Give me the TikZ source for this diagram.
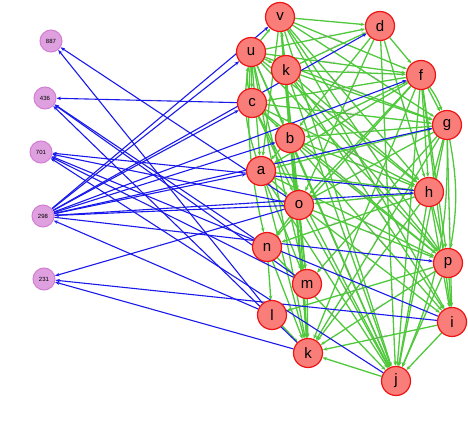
\documentclass[tikz,border=0pt]{standalone}
\usepackage{fontspec}
\setmainfont{Liberation Sans}
\usetikzlibrary{arrows.meta,backgrounds}
\definecolor{rfill}{RGB}{249,125,120}
\definecolor{rdraw}{RGB}{236,20,20}
\definecolor{pfill}{RGB}{222,160,222}
\definecolor{pdraw}{RGB}{212,125,212}
\definecolor{eblue}{RGB}{25,25,235}
\definecolor{egreen}{RGB}{80,200,60}
\begin{document}
\begin{tikzpicture}[x=1pt,y={(0pt,-1pt)},
  rnode/.style={circle, fill=rfill, draw=rdraw, line width=1.2pt, minimum size=29pt, inner sep=0pt, font=\fontsize{15}{15}\selectfont},
  pnode/.style={circle, fill=pfill, draw=pdraw, line width=1pt, minimum size=22pt, inner sep=0pt, font=\fontsize{6}{6}\selectfont},
  bl/.style={draw=eblue, line width=1.1pt, -{Stealth[length=4.5pt,width=3.5pt]}},
  gr/.style={draw=egreen, line width=1.3pt, -{Stealth[length=4.5pt,width=3.5pt]}},
  elab/.style={font=\fontsize{2}{2}\selectfont, text=gray, sloped, inner sep=0.2pt}]
\useasboundingbox (0,0) rectangle (468,430);
% left nodes
\node[pnode] (n887) at (51,41) {887};
\node[pnode] (n436) at (45,98) {436};
\node[pnode] (n701) at (41,152) {701};
\node[pnode] (n298) at (43,216) {298};
\node[pnode] (n231) at (44,279) {231};
% red nodes
\node[rnode] (v) at (280,17) {v};
\node[rnode] (d) at (380,26) {d};
\node[rnode] (u) at (251,52) {u};
\node[rnode] (k1) at (286,70) {k};
\node[rnode] (f) at (421,75) {f};
\node[rnode] (c) at (252,103) {c};
\node[rnode] (g) at (447,125) {g};
\node[rnode] (b) at (290,138) {b};
\node[rnode] (a) at (261,171) {a};
\node[rnode] (h) at (429,192) {h};
\node[rnode] (o) at (299,205) {o};
\node[rnode] (n) at (267,247) {n};
\node[rnode] (p) at (448,263) {p};
\node[rnode] (m) at (307,284) {m};
\node[rnode] (l) at (272,315) {l};
\node[rnode] (i) at (452,322) {i};
\node[rnode] (k2) at (308,353) {k};
\node[rnode] (j) at (396,381) {j};
\begin{scope}[on background layer]
% green edges with labels
\foreach \s/\t/\q in {v/f/0.4, v/g/0.6, v/h/0.35, v/p/0.55, v/j/0.3, v/k2/0.5, v/i/0.7,
  k1/d/0.5, d/b/0.5, d/h/0.5, d/j/0.4, u/d/0.6, d/o/0.3,
  u/f/0.45, u/g/0.55, u/h/0.4, u/j/0.6, u/k2/0.5, u/m/0.4, u/p/0.65,
  k1/f/0.5, k1/g/0.35, k1/p/0.45, k1/j/0.55, k1/i/0.6, k1/h/0.4, k1/k2/0.5,
  f/c/0.5, f/b/0.55, f/a/0.4, f/o/0.6, f/j/0.5, f/k2/0.35, f/i/0.5, f/n/0.45,
  c/g/0.5, c/h/0.6, c/p/0.45, c/j/0.55,
  g/b/0.5, g/a/0.4, g/j/0.5, g/o/0.6, g/k2/0.5, g/i/0.5, g/m/0.45,
  b/h/0.5, b/p/0.4, b/j/0.55, b/k2/0.5, b/i/0.6,
  a/h/0.5, a/p/0.6, a/j/0.45,
  h/o/0.5, h/j/0.5, h/k2/0.5, h/n/0.6,
  o/p/0.5, o/j/0.5, o/i/0.4,
  n/j/0.5, p/k2/0.5, p/l/0.5, i/k2/0.5}
  \draw[gr] (\s) -- node[elab, pos=\q]{RELATED\_TO} (\t);
% short green edges
\foreach \s/\t in {v/d, u/v, k1/v, v/b, v/a, v/o, d/f, u/c, u/k1, u/a, u/b, k1/b,
  f/g, f/h, f/p, c/b, c/o, g/h, b/a, b/o, b/m, a/o, a/k2, a/m, h/p, h/i,
  o/m, o/k2, o/n, n/l, n/k2, p/i, p/j, m/k2, l/k2, i/j, j/k2}
  \draw[gr] (\s) -- (\t);
\draw[gr] (c) to[bend left=12] (u);
\draw[gr] (a) to[bend left=14] (u);
\draw[gr] (u) to[bend right=8] (n);
\draw[gr] (g) to[bend left=10] (p);
\draw[gr] (f) to[bend left=8] (g);
\draw[gr] (g) to[bend left=12] (j);
% blue edges
\foreach \s/\t/\q in {o/n887/0.45, l/n887/0.5, c/n436/0.45, n/n436/0.55, m/n436/0.35, k2/n436/0.6,
  h/n701/0.4, o/n701/0.5, i/n701/0.3, m/n701/0.6, j/n701/0.45,
  n298/v/0.55, n298/u/0.6, n298/d/0.5, n298/c/0.7, n298/f/0.45, n298/b/0.65, n298/g/0.4, n298/a/0.6, n298/h/0.35, n298/p/0.3,
  l/n298/0.55, o/n298/0.45, o/n231/0.55, i/n231/0.45, k2/n231/0.6}
  \draw[bl] (\s) -- node[elab, pos=\q]{related} (\t);
\end{scope}
\end{tikzpicture}
\end{document}
